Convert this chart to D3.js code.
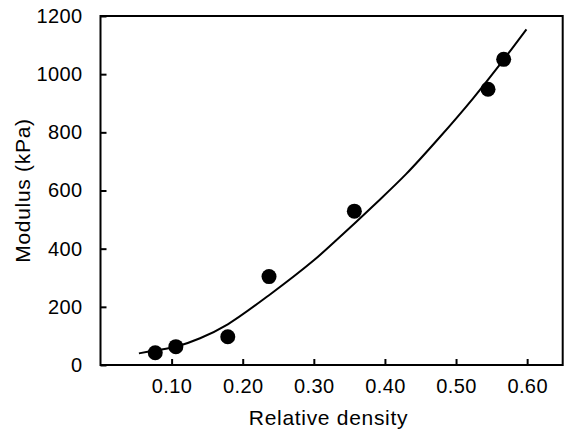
<!DOCTYPE html>
<html>
<head>
<meta charset="utf-8">
<script src="https://cdn.jsdelivr.net/npm/d3@7"></script>
<style>
  html, body { margin: 0; padding: 0; background: #fff; }
  svg { display: block; font-family: "Liberation Sans", Arial, Helvetica, sans-serif; }
</style>
</head>
<body>
<svg id="chart" width="571" height="433"></svg>
<script>
// Measured data points
const density = [0.077, 0.106, 0.179, 0.237, 0.357, 0.545, 0.567];
const modulus = [42, 63, 97, 304, 529, 948, 1051];

// Fitted curve
const fitDensity = [0.054, 0.077, 0.106, 0.140, 0.179, 0.237, 0.300, 0.3365, 0.383, 0.430, 0.477, 0.524, 0.561, 0.599];
const fitModulus = [40, 50, 63, 92, 140, 240, 360, 440, 546, 657, 783, 917, 1031, 1154];

// Axis ticks
const xTicks = [0.10, 0.20, 0.30, 0.40, 0.50, 0.60];
const yTicks = [0, 200, 400, 600, 800, 1000, 1200];

const xLabel = "Relative density";
const yLabel = "Modulus (kPa)";

const svg = d3.select("#chart");
const pLeft = 100.5, pRight = 562.7, pTop = 16, pBottom = 365;

const x = d3.scaleLinear().domain([0, 0.65]).range([pLeft, pRight]);
const y = d3.scaleLinear().domain([0, 1200]).range([pBottom, pTop]);

// Axes (ticks pointing inward)
const xAxis = d3.axisBottom(x).tickValues(xTicks).tickFormat(d3.format(".2f"))
  .tickSizeInner(-6).tickSizeOuter(0).tickPadding(14);
const yAxis = d3.axisLeft(y).tickValues(yTicks).tickFormat(d3.format("d"))
  .tickSizeInner(-6).tickSizeOuter(0).tickPadding(18);

const gx = svg.append("g").attr("transform", `translate(0,${pBottom})`).call(xAxis);
const gy = svg.append("g").attr("transform", `translate(${pLeft},0)`).call(yAxis);

[gx, gy].forEach(g => {
  g.select(".domain").remove();
  g.selectAll(".tick line").attr("stroke", "#000").attr("stroke-width", 2);
  g.selectAll(".tick text").attr("fill", "#000").style("font-size", "20px").style("letter-spacing", "0.4px");
});
gx.selectAll(".tick text").attr("dy", "0.71em");

// Frame
svg.append("rect")
  .attr("x", pLeft).attr("y", pTop)
  .attr("width", pRight - pLeft).attr("height", pBottom - pTop)
  .attr("fill", "none").attr("stroke", "#000").attr("stroke-width", 2);

// Fit curve
const fitData = fitDensity.map((d, i) => [d, fitModulus[i]]);
svg.append("path")
  .datum(fitData)
  .attr("fill", "none").attr("stroke", "#000").attr("stroke-width", 2)
  .attr("d", d3.line().x(d => x(d[0])).y(d => y(d[1])).curve(d3.curveCatmullRom.alpha(0.5)));

// Points
const pts = density.map((d, i) => [d, modulus[i]]);
svg.append("g").selectAll("circle").data(pts).join("circle")
  .attr("cx", d => x(d[0])).attr("cy", d => y(d[1]))
  .attr("r", 7.5).attr("fill", "#000");

// Axis titles
svg.append("text")
  .attr("x", 328.5).attr("y", 425)
  .attr("text-anchor", "middle")
  .style("font-size", "21px").style("letter-spacing", "0.7px")
  .text(xLabel);

svg.append("text")
  .attr("transform", "translate(30,190.5) rotate(-90)")
  .attr("text-anchor", "middle")
  .style("font-size", "21px").style("letter-spacing", "0.7px")
  .text(yLabel);
</script>
</body>
</html>
